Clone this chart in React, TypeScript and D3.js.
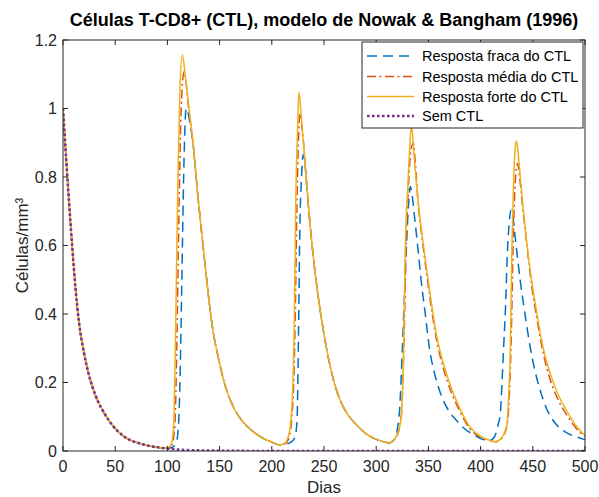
import React from 'react';
import * as d3 from 'd3';

type Ponto = [number, number];

// decaimento inicial comum a todas as curvas
const decaimentoInicial: Ponto[] = [
  [0, 1.0], [3.2, 0.845], [5.75, 0.728], [9, 0.59], [12, 0.474], [15.3, 0.376],
  [20, 0.288], [25, 0.22], [31.3, 0.161], [41, 0.103], [50.5, 0.064], [60, 0.039],
  [76, 0.02], [92, 0.01],
];

const respostaFraca: Ponto[] = [
  [100, 0.008], [105, 0.011], [108, 0.022], [110, 0.05], [111.5, 0.14], [113, 0.35],
  [114.5, 0.62], [116, 0.86], [118, 1.0], [119.5, 0.99], [121.5, 0.96], [124.4, 0.903],
  [129, 0.75], [133.8, 0.609], [138, 0.49], [143, 0.364], [149, 0.27], [155.6, 0.188],
  [163, 0.13], [171, 0.09], [180, 0.062], [193, 0.035], [200, 0.026], [207, 0.018],
  [215, 0.021], [220, 0.03], [222.5, 0.045], [224.2, 0.09], [225.6, 0.35], [226.8, 0.64],
  [228.5, 0.8], [230, 0.865], [231.5, 0.85], [233, 0.79], [235.8, 0.69], [240, 0.56],
  [245.4, 0.43], [251.8, 0.31], [258, 0.22], [264.5, 0.156], [272, 0.11], [280.5, 0.078],
  [293.3, 0.044], [303, 0.031], [312.8, 0.024], [317, 0.033], [320, 0.06], [322.4, 0.12],
  [325, 0.295], [327, 0.45], [328.8, 0.587], [331, 0.72], [332.6, 0.772], [334.5, 0.745],
  [336.7, 0.684], [340, 0.59], [343, 0.5], [347, 0.4], [351, 0.3], [356, 0.225],
  [362, 0.165], [370, 0.115], [376.7, 0.09], [383.5, 0.068], [395, 0.045], [402, 0.034],
  [407.6, 0.03], [412, 0.036], [415, 0.055], [417, 0.08], [418.8, 0.105], [420.5, 0.2],
  [422, 0.3], [423.6, 0.4], [425.9, 0.595], [427.5, 0.67], [429.2, 0.704], [431, 0.68],
  [434, 0.6], [438, 0.497], [443, 0.39], [447.7, 0.3], [452, 0.235], [457.4, 0.174],
  [463, 0.125], [470.2, 0.086], [478, 0.062], [486.3, 0.047], [493, 0.04], [500, 0.033],
];

const respostaMedia: Ponto[] = [
  [100, 0.009], [104, 0.016], [106, 0.04], [107.5, 0.1], [109, 0.3], [111, 0.68],
  [113, 0.98], [115.9, 1.107], [118, 1.07], [120, 1.01], [124.4, 0.903], [129, 0.75],
  [133.8, 0.609], [138, 0.49], [143, 0.364], [149, 0.27], [155.6, 0.188], [163, 0.13],
  [171, 0.09], [180, 0.062], [193, 0.035], [200, 0.026], [207, 0.018], [213, 0.022],
  [216.5, 0.04], [219, 0.09], [221, 0.2], [222.5, 0.4], [224, 0.7], [225.5, 0.9],
  [227, 0.985], [229.4, 0.93], [235.8, 0.69], [240, 0.56], [245.4, 0.43], [251.8, 0.31],
  [258, 0.22], [264.5, 0.156], [272, 0.11], [280.5, 0.078], [293.3, 0.044], [303, 0.031],
  [312.8, 0.024], [319, 0.04], [322.5, 0.07], [324.5, 0.12], [326.5, 0.3], [328.5, 0.58],
  [331, 0.78], [333, 0.87], [335.5, 0.9], [337.5, 0.84], [340, 0.73], [344, 0.62],
  [348, 0.525], [352.5, 0.425], [357.5, 0.33], [364, 0.245], [370.3, 0.185], [380, 0.117],
  [389.5, 0.066], [400, 0.04], [408, 0.031], [414.5, 0.027], [420, 0.036], [423.5, 0.055],
  [426, 0.09], [427.8, 0.18], [429.5, 0.35], [431, 0.58], [432.8, 0.76], [434.5, 0.83],
  [435.5, 0.84], [437, 0.81], [440, 0.72], [444, 0.61], [449, 0.48], [454, 0.385],
  [460, 0.285], [467, 0.205], [475, 0.145], [483, 0.103], [491, 0.068], [500, 0.042],
];

const respostaForte: Ponto[] = [
  [100, 0.009], [103, 0.016], [105, 0.04], [106.5, 0.12], [108, 0.38], [110, 0.78],
  [112, 1.06], [114.3, 1.156], [117, 1.1], [120, 1.02], [124.4, 0.903], [129, 0.75],
  [133.8, 0.609], [138, 0.49], [143, 0.364], [149, 0.27], [155.6, 0.188], [163, 0.13],
  [171, 0.09], [180, 0.062], [193, 0.035], [200, 0.026], [207, 0.018], [212, 0.022],
  [215.5, 0.04], [218.2, 0.088], [220, 0.18], [221.4, 0.35], [223, 0.74], [224.6, 0.935],
  [226, 1.048], [227.6, 1.0], [229.4, 0.935], [235.8, 0.69], [240, 0.56], [245.4, 0.43],
  [251.8, 0.31], [258, 0.22], [264.5, 0.156], [272, 0.11], [280.5, 0.078], [293.3, 0.044],
  [303, 0.031], [312.8, 0.024], [319, 0.042], [322, 0.065], [324, 0.1], [326.2, 0.295],
  [327.8, 0.587], [330.4, 0.78], [332, 0.88], [333, 0.93], [334.2, 0.945], [335.8, 0.88],
  [340, 0.733], [344, 0.63], [348, 0.538], [352.5, 0.44], [357.5, 0.343], [364, 0.26],
  [370.3, 0.198], [380, 0.125], [389.5, 0.071], [400, 0.043], [408, 0.032], [414, 0.027],
  [420, 0.038], [423, 0.055], [425.3, 0.08], [427, 0.17], [428.5, 0.3], [430, 0.595],
  [431.6, 0.79], [433, 0.88], [434.3, 0.905], [436, 0.87], [438, 0.8], [441.3, 0.693],
  [447, 0.54], [454, 0.4], [460, 0.3], [467, 0.223], [475, 0.16], [483, 0.115],
  [491, 0.075], [500, 0.045],
];

const semCTL: Ponto[] = [
  [100, 0.007], [110, 0.004], [125, 0.002], [150, 0.0008], [200, 0], [500, 0],
];

const nomesSeries = ['Resposta fraca do CTL', 'Resposta média do CTL', 'Resposta forte do CTL', 'Sem CTL'];
const xTicks = [0, 50, 100, 150, 200, 250, 300, 350, 400, 450, 500];
const yTicks = [0, 0.2, 0.4, 0.6, 0.8, 1, 1.2];

const estilos = [
  { cor: '#0072BD', largura: 1.5, traco: '10 6' },
  { cor: '#D95319', largura: 1.5, traco: '9 3.5 2 3.5' },
  { cor: '#EDB120', largura: 1.5, traco: undefined },
  { cor: '#7E2F8E', largura: 2.6, traco: '2.6 2.4' },
];

const width = 599;
const height = 497;
const margin = { top: 40, right: 14, bottom: 46, left: 63 };
const eixo = '#262626';
const fonte = '"Liberation Sans", Arial, Helvetica, sans-serif';

const App = () => {
  const x = d3.scaleLinear().domain([0, 500]).range([margin.left, width - margin.right]);
  const y = d3.scaleLinear().domain([0, 1.2]).range([height - margin.bottom, margin.top]);

  const linha = d3
    .line<Ponto>()
    .x(d => x(d[0]))
    .y(d => y(d[1]))
    .curve(d3.curveMonotoneX);

  const series = [respostaFraca, respostaMedia, respostaForte, semCTL].map(s => decaimentoInicial.concat(s));

  const x0 = x(0);
  const x1 = x(500);
  const y0 = y(0);
  const y1 = y(1.2);
  const tick = 5;

  const leg = { x: 362, y: 42, w: 221, h: 86 };
  const legY = [56, 76.5, 96.5, 116];

  return (
    <svg
      width={width}
      height={height}
      viewBox={`0 0 ${width} ${height}`}
      style={{ position: 'absolute', left: 0, top: 0, background: '#fff' }}
      fontFamily={fonte}
    >
      <rect x={0} y={0} width={width} height={height} fill='#fff' />
      <defs>
        <clipPath id='area'>
          <rect x={x0} y={y1} width={x1 - x0} height={y0 - y1} />
        </clipPath>
      </defs>

      <g clipPath='url(#area)'>
        {series.map((s, i) => (
          <path
            key={`serie-${i}`}
            d={linha(s) || ''}
            fill='none'
            stroke={estilos[i].cor}
            strokeWidth={estilos[i].largura}
            strokeDasharray={estilos[i].traco}
          />
        ))}
      </g>

      {/* caixa dos eixos com marcas para dentro */}
      <g stroke={eixo} strokeWidth={1} fill='none'>
        <rect x={x0} y={y1} width={x1 - x0} height={y0 - y1} />
        {xTicks.map(t => (
          <g key={`xt-${t}`}>
            <line x1={x(t)} x2={x(t)} y1={y0} y2={y0 - tick} />
            <line x1={x(t)} x2={x(t)} y1={y1} y2={y1 + tick} />
          </g>
        ))}
        {yTicks.map(t => (
          <g key={`yt-${t}`}>
            <line x1={x0} x2={x0 + tick} y1={y(t)} y2={y(t)} />
            <line x1={x1} x2={x1 - tick} y1={y(t)} y2={y(t)} />
          </g>
        ))}
      </g>

      <g fontSize={16} fill={eixo}>
        {xTicks.map(t => (
          <text key={`xl-${t}`} x={x(t)} y={y0 + 21} textAnchor='middle'>
            {t}
          </text>
        ))}
        {yTicks.map(t => (
          <text key={`yl-${t}`} x={x0 - 6} y={y(t) + 5.5} textAnchor='end'>
            {String(t)}
          </text>
        ))}
      </g>

      <text x={(x0 + x1) / 2} y={493} textAnchor='middle' fontSize={17} fill={eixo}>
        Dias
      </text>
      <text
        transform={`translate(28, ${(y0 + y1) / 2}) rotate(-90)`}
        textAnchor='middle'
        fontSize={17}
        fill={eixo}
      >
        Células/mm³
      </text>
      <text x={(x0 + x1) / 2} y={26} textAnchor='middle' fontSize={18} fontWeight='bold' fill='#000'>
        Células T-CD8+ (CTL), modelo de Nowak &amp; Bangham (1996)
      </text>

      <g>
        <rect x={leg.x} y={leg.y} width={leg.w} height={leg.h} fill='#fff' stroke={eixo} strokeWidth={1} />
        {nomesSeries.map((nome, i) => (
          <g key={`leg-${i}`}>
            <line
              x1={leg.x + 5}
              x2={leg.x + 52}
              y1={legY[i]}
              y2={legY[i]}
              stroke={estilos[i].cor}
              strokeWidth={estilos[i].largura}
              strokeDasharray={estilos[i].traco}
            />
            <text x={leg.x + 60} y={legY[i] + 5} fontSize={14.5} fill='#000'>
              {nome}
            </text>
          </g>
        ))}
      </g>
    </svg>
  );
};

export default App;
